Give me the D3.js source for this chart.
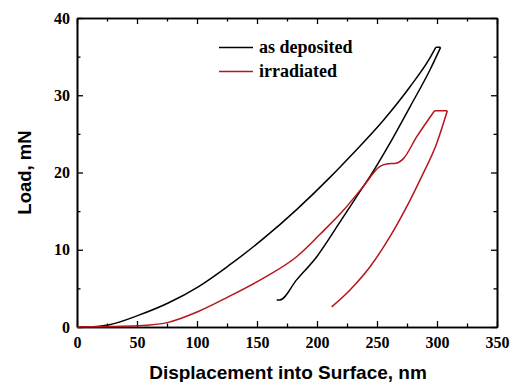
<!DOCTYPE html>
<html>
<head>
<meta charset="utf-8">
<script src="https://cdn.jsdelivr.net/npm/d3@7"></script>
<style>
  body { margin: 0; background: #fff; }
  .tick text { font-family: "Liberation Serif", "Times New Roman", serif; font-weight: bold; font-size: 16px; fill: #000; }
  .domain { stroke: #000; stroke-width: 1.6px; }
  .tick line { stroke: #000; stroke-width: 1.3px; }
</style>
</head>
<body>
<div id="chart"></div>
<script>
// Series: loading branch, top hold, unloading branch
const depositedX = [0, 9, 26, 51, 76, 101, 126, 155, 183, 211, 229, 255, 277.5, 294, 299, 303, 294.2, 277.5, 260.8, 244.2, 238.6, 219.2, 199.8, 183, 169, 166.4];
const depositedY = [0, 0, 0.26, 1.5, 3.1, 5.2, 7.9, 11.4, 15.2, 19.4, 22.3, 26.7, 31.1, 34.8, 36.2, 36.2, 33.3, 28.5, 23.8, 19.5, 18.2, 13.6, 9.1, 6.1, 3.5, 3.5];

const irradiatedX = [0, 26, 51, 76, 101, 126, 155, 183, 202.5, 222, 238.6, 252.5, 258, 266, 272, 283, 298, 308.6, 299.8, 287.3, 277.5, 260.8, 244.2, 227.5, 212.2];
const irradiatedY = [0, 0.05, 0.15, 0.6, 2.0, 3.9, 6.3, 9.1, 12.0, 15.1, 18.2, 20.8, 21.1, 21.2, 21.8, 24.6, 28.0, 28.0, 23.8, 19.5, 16.4, 11.7, 7.8, 4.8, 2.6];

const seriesNames = ["as deposited", "irradiated"];
const seriesColors = ["#000000", "#b8141c"];

const xMajor = [0, 50, 100, 150, 200, 250, 300, 350];
const xMinor = [25, 75, 125, 175, 225, 275, 325];
const yMajor = [0, 10, 20, 30, 40];
const yMinor = [5, 15, 25, 35];

const width = 513, height = 382;
const margin = {left: 77, right: 16, top: 18, bottom: 55};

const svg = d3.select("#chart").append("svg")
  .attr("width", width)
  .attr("height", height);

const x = d3.scaleLinear().domain([0, 350]).range([margin.left, width - margin.right]);
const y = d3.scaleLinear().domain([0, 40]).range([height - margin.bottom, margin.top]);

// axes, ticks pointing inward
svg.append("g")
  .attr("transform", "translate(0," + y(0) + ")")
  .call(d3.axisBottom(x).tickValues(xMajor).tickSize(-6).tickPadding(10).tickSizeOuter(0));
svg.append("g")
  .attr("transform", "translate(0," + y(0) + ")")
  .call(d3.axisBottom(x).tickValues(xMinor).tickSize(-3.5).tickFormat("").tickSizeOuter(0));
svg.append("g")
  .attr("transform", "translate(0," + y(40) + ")")
  .call(d3.axisTop(x).tickValues(xMajor).tickSize(-6).tickFormat("").tickSizeOuter(0));
svg.append("g")
  .attr("transform", "translate(0," + y(40) + ")")
  .call(d3.axisTop(x).tickValues(xMinor).tickSize(-3.5).tickFormat("").tickSizeOuter(0));

svg.append("g")
  .attr("transform", "translate(" + x(0) + ",0)")
  .call(d3.axisLeft(y).tickValues(yMajor).tickSize(-6).tickPadding(7).tickSizeOuter(0));
svg.append("g")
  .attr("transform", "translate(" + x(0) + ",0)")
  .call(d3.axisLeft(y).tickValues(yMinor).tickSize(-3.5).tickFormat("").tickSizeOuter(0));
svg.append("g")
  .attr("transform", "translate(" + x(350) + ",0)")
  .call(d3.axisRight(y).tickValues(yMajor).tickSize(-6).tickFormat("").tickSizeOuter(0));
svg.append("g")
  .attr("transform", "translate(" + x(350) + ",0)")
  .call(d3.axisRight(y).tickValues(yMinor).tickSize(-3.5).tickFormat("").tickSizeOuter(0));

// the curves: smooth loading and unloading branches, straight hold at the top
const smooth = d3.line()
  .curve(d3.curveMonotoneX)
  .x(d => x(d[0]))
  .y(d => y(d[1]));
const straight = d3.line()
  .x(d => x(d[0]))
  .y(d => y(d[1]));

function pieces(xs, ys) {
  const pts = d3.zip(xs, ys);
  const iTop = d3.maxIndex(ys);   // end of loading
  const iHold = d3.maxIndex(xs);  // end of hold
  return [
    smooth(pts.slice(0, iTop + 1)),
    straight(pts.slice(iTop, iHold + 1)),
    smooth(pts.slice(iHold).reverse())
  ].join("");
}

const allSeries = [
  [depositedX, depositedY],
  [irradiatedX, irradiatedY]
];

svg.selectAll(".curve")
  .data(allSeries)
  .enter().append("path")
  .attr("class", "curve")
  .attr("d", d => pieces(d[0], d[1]))
  .attr("fill", "none")
  .attr("stroke", (d, i) => seriesColors[i])
  .attr("stroke-width", 1.5)
  .attr("stroke-linejoin", "round");

// legend
const legend = svg.selectAll(".legend")
  .data(seriesNames)
  .enter().append("g")
  .attr("class", "legend")
  .attr("transform", (d, i) => "translate(219," + (47.5 + i * 24) + ")");

legend.append("line")
  .attr("x1", 0).attr("x2", 34)
  .attr("stroke", (d, i) => seriesColors[i])
  .attr("stroke-width", 1.6);

legend.append("text")
  .attr("x", 40)
  .attr("y", 5.5)
  .style("font-family", "'Liberation Serif', 'Times New Roman', serif")
  .style("font-weight", "bold")
  .style("font-size", "18px")
  .text(d => d);

// axis titles
svg.append("text")
  .attr("x", (x(0) + x(350)) / 2 + 1)
  .attr("y", 379)
  .attr("text-anchor", "middle")
  .style("font-family", "'Liberation Sans', Arial, sans-serif")
  .style("font-weight", "bold")
  .style("font-size", "19px")
  .text("Displacement into Surface, nm");

svg.append("text")
  .attr("transform", "translate(31," + ((y(0) + y(40)) / 2) + ") rotate(-90)")
  .attr("text-anchor", "middle")
  .style("font-family", "'Liberation Sans', Arial, sans-serif")
  .style("font-weight", "bold")
  .style("font-size", "18.5px")
  .text("Load, mN");
</script>
</body>
</html>
